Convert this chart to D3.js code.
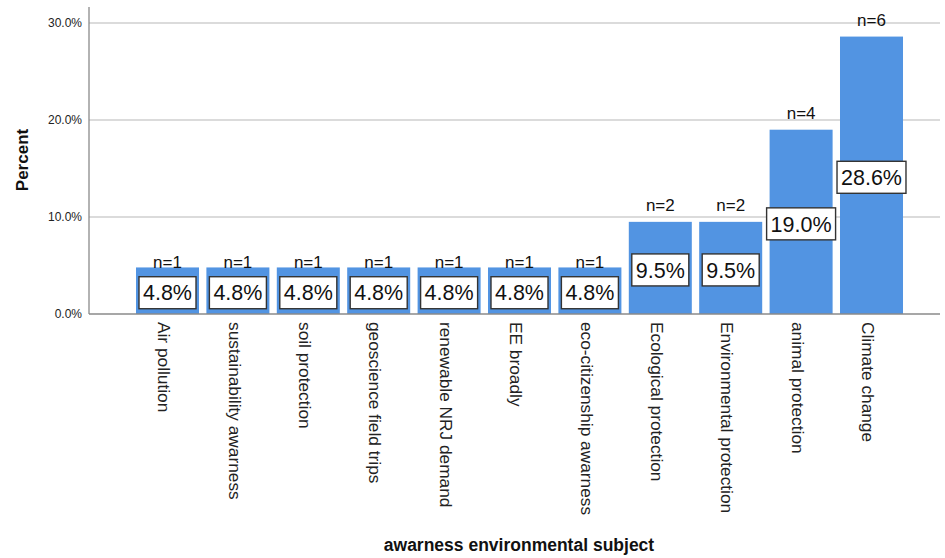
<!DOCTYPE html>
<html><head><meta charset="utf-8">
<script src="https://cdn.jsdelivr.net/npm/d3@7"></script>
<style>body{margin:0;background:#fff;} text{font-family:"Liberation Sans",Arial,sans-serif;}</style>
</head><body><svg id="c" width="945" height="558"></svg>
<script>
const categories = ["Air pollution","sustainability awarness","soil protection","geoscience field trips","renewable NRJ demand","EE broadly","eco-citizenship awarness","Ecological protection","Environmental protection","animal protection","Climate change"];
const percents = [4.8,4.8,4.8,4.8,4.8,4.8,4.8,9.5,9.5,19.0,28.6];
const counts = [1,1,1,1,1,1,1,2,2,4,6];
const yTicks = [0,10,20,30];

const svg = d3.select("#c");
const left = 89, right = 940, y0px = 314, topPx = 23;
const y = d3.scaleLinear().domain([0,30]).range([y0px, topPx]);
const x = d3.scaleBand().domain(categories).range([132.3, 906.7]).paddingInner(0.105).paddingOuter(0.0525);

// gridlines
svg.append("g").selectAll("line").data(yTicks.filter(d=>d>0)).join("line")
  .attr("x1",left).attr("x2",right).attr("y1",d=>y(d)).attr("y2",d=>y(d))
  .attr("stroke","#cfcfcf").attr("stroke-width",1.3);

// y axis
const yAxis = d3.axisLeft(y).tickValues(yTicks).tickFormat(d=>d.toFixed(1)+"%").tickSize(0).tickPadding(7);
const ga = svg.append("g").attr("transform",`translate(${left},0)`).call(yAxis);
ga.select(".domain").remove();
ga.selectAll("text").attr("font-size",12).attr("fill","#222").attr("font-family","Liberation Sans, Arial, sans-serif");
svg.append("line").attr("x1",left).attr("x2",left).attr("y1",7).attr("y2",y0px).attr("stroke","#8a8a8a").attr("stroke-width",1.3);

// bars
svg.append("g").selectAll("rect").data(categories).join("rect")
  .attr("x",d=>x(d)).attr("width",x.bandwidth())
  .attr("y",(d,i)=>y(percents[i])).attr("height",(d,i)=>y0px-y(percents[i]))
  .attr("fill","#5294e2");

// baseline
svg.append("line").attr("x1",left).attr("x2",right).attr("y1",y0px).attr("y2",y0px).attr("stroke","#8a8a8a").attr("stroke-width",1.3);

// value boxes
const bh = 32;
categories.forEach((c,i)=>{
  const cx = x(c)+x.bandwidth()/2;
  const top = y(percents[i]);
  const mid = (top+y0px)/2 + 2;
  let bTop = Math.min(mid - bh/2, y0px - 4 - bh);
  const label = percents[i].toFixed(1)+"%";
  const t = svg.append("text").attr("x",cx).attr("y",bTop+bh/2).attr("dy","0.36em")
    .attr("text-anchor","middle").attr("font-size",21.5).attr("fill","#111").text(label);
  const w = t.node().getComputedTextLength()+8;
  svg.insert("rect", () => t.node()).attr("x",cx-w/2).attr("y",bTop).attr("width",w).attr("height",bh)
    .attr("fill","#fff").attr("stroke","#333").attr("stroke-width",1.4);
  let nBase = top - 11;
  if (bTop - top < 15) nBase = Math.max(nBase, bTop - 9);
  svg.append("text").attr("x",cx).attr("y",nBase).attr("text-anchor","middle")
    .attr("font-size",17).attr("fill","#111").text("n="+counts[i]);
});

// x labels
svg.append("g").selectAll("text").data(categories).join("text")
  .attr("transform",d=>`translate(${x(d)+x.bandwidth()/2-3},322) rotate(90)`)
  .attr("dy","0.36em").attr("text-anchor","start").attr("font-size",17.3).attr("fill","#222").text(d=>d);

// titles
svg.append("text").attr("transform","translate(28,160) rotate(-90)").attr("text-anchor","middle")
  .attr("font-size",17).attr("font-weight","bold").attr("fill","#111").text("Percent");
svg.append("text").attr("x",519).attr("y",551).attr("text-anchor","middle")
  .attr("font-size",17.5).attr("font-weight","bold").attr("fill","#111").text("awarness environmental subject");
</script></body></html>
